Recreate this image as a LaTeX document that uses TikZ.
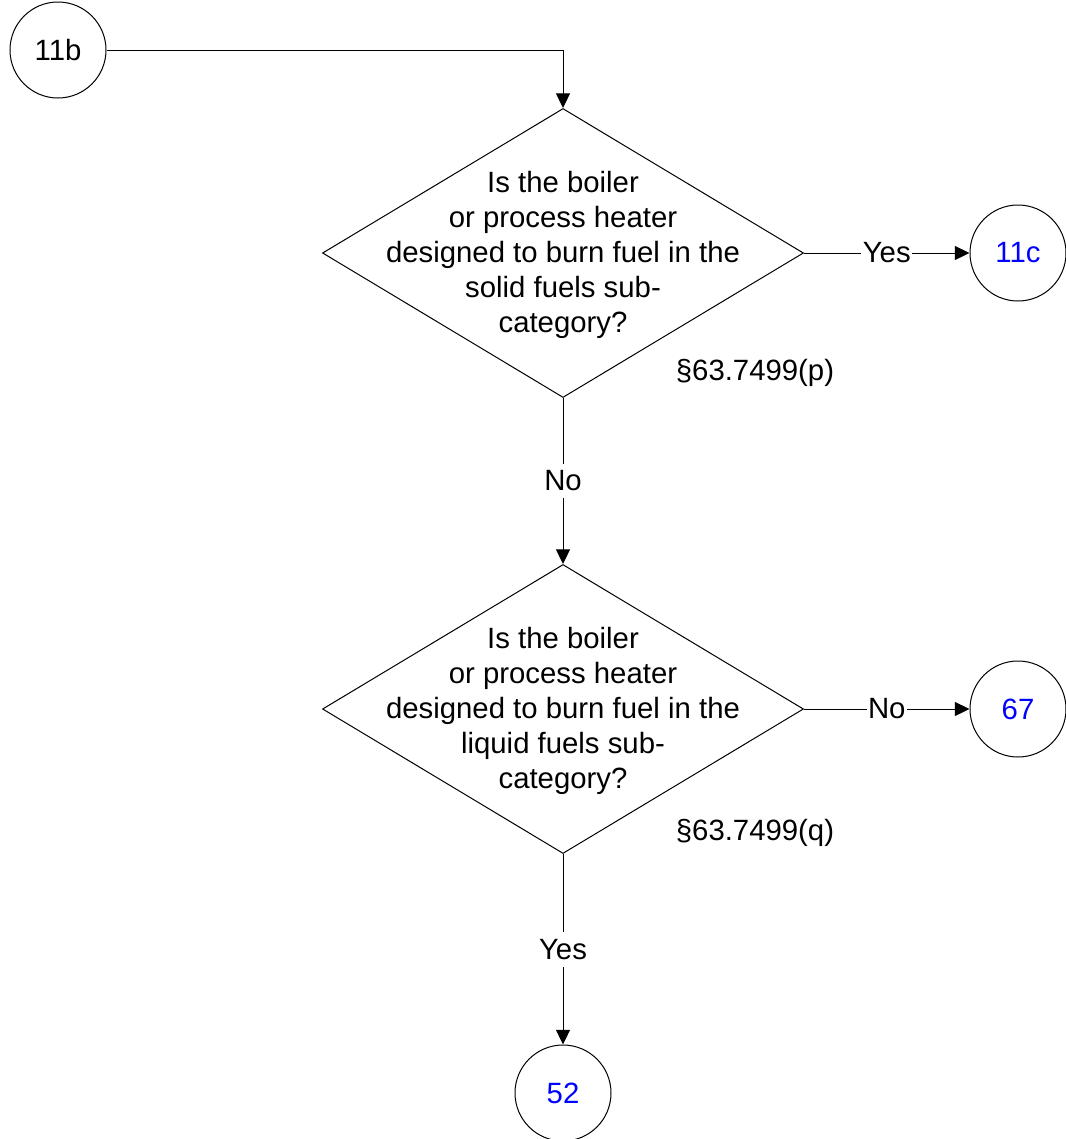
\documentclass[tikz,border=0pt]{standalone}
\usepackage{fontspec}
\setmainfont{Liberation Sans}
\usetikzlibrary{shapes.geometric,arrows.meta}
\definecolor{linkblue}{RGB}{0,0,255}
\begin{document}
\begin{tikzpicture}[x=0.75pt,y=-0.75pt,
  every node/.style={font=\fontsize{22}{26.25}\selectfont},
  conn/.style={draw, circle, minimum size=72pt, inner sep=0pt, line width=0.75pt},
  decision/.style={draw, diamond, minimum width=360.75pt, minimum height=216.75pt, inner sep=0pt, line width=0.75pt},
  qtext/.style={align=center, inner sep=0pt},
  arr/.style={line width=0.75pt, -{Triangle[length=11pt,width=10.5pt]}},
  elabel/.style={fill=white, inner xsep=1pt, inner ysep=0pt, minimum height=26pt},
  ref/.style={inner sep=0pt}
]
\path[use as bounding box] (0,0) rectangle (1066,1139);

\node[conn] (c11b) at (58,50) {11b};
\node[decision] (d1) at (563,253) {};
\node[qtext] (t1) at (563,255) {Is the boiler\\or process heater\\designed to burn fuel in the\\solid fuels sub-\\category?};
\node[ref] (p1) at (755,373) {§63.7499(p)};
\node[conn, text=linkblue] (c11c) at (1018,253) {11c};

\node[decision] (d2) at (563,709) {};
\node[qtext] (t2) at (563,711) {Is the boiler\\or process heater\\designed to burn fuel in the\\liquid fuels sub-\\category?};
\node[ref] (p2) at (755,833) {§63.7499(q)};
\node[conn, text=linkblue] (c67) at (1018,709) {67};

\node[conn, text=linkblue] (c52) at (563,1093) {52};

\draw[arr] (c11b.east) -| (d1.north);
\draw[arr] (d1.east) -- node[elabel, midway] {Yes} (c11c.west);
\draw[arr] (d1.south) -- node[elabel, midway] {No} (d2.north);
\draw[arr] (d2.east) -- node[elabel, midway] {No} (c67.west);
\draw[arr] (d2.south) -- node[elabel, midway] {Yes} (c52.north);
\end{tikzpicture}
\end{document}
